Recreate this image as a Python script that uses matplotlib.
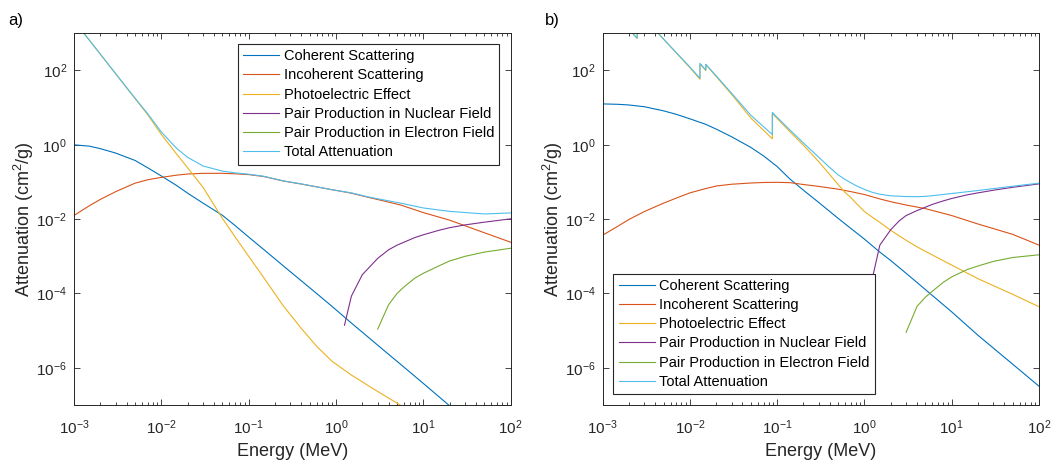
import matplotlib
matplotlib.use('Agg')
import matplotlib.pyplot as plt
from matplotlib.ticker import LogLocator, NullLocator

plt.rcParams['font.family'] = ['Liberation Sans', 'DejaVu Sans']
plt.rcParams['mathtext.fontset'] = 'custom'
plt.rcParams['mathtext.rm'] = 'Liberation Sans'
plt.rcParams['mathtext.it'] = 'Liberation Sans:italic'
plt.rcParams['mathtext.bf'] = 'Liberation Sans:bold'

labels = ['Coherent Scattering', 'Incoherent Scattering', 'Photoelectric Effect',
          'Pair Production in Nuclear Field', 'Pair Production in Electron Field',
          'Total Attenuation']
colors = ['#0072BD', '#D95319', '#EDB120', '#7E2F8E', '#77AC30', '#4DBEEE']

# ---- panel a) (low Z material) ----
energy_a = [1e-3, 1.5e-3, 2e-3, 3e-3, 5e-3, 7e-3, 1e-2, 1.5e-2, 2e-2, 3e-2,
            5e-2, 7e-2, 0.1, 0.15, 0.25, 0.4, 0.6, 0.9, 1.5, 2.3, 3.5, 5.5,
            10, 20, 50, 100]
coh_a = [1.0, 0.92, 0.79, 0.6, 0.38, 0.24, 0.145, 0.08, 0.05, 0.027, 0.0127,
         6.7e-3, 3.3e-3, 1.5e-3, 5.5e-4, 2.2e-4, 1.0e-4, 4.5e-5, 1.6e-5,
         6.9e-6, 3.0e-6, 1.24e-6, 3.8e-7, 9.5e-8, 1.5e-8, 3.8e-9]
inc_a = [0.0126, 0.023, 0.034, 0.055, 0.093, 0.115, 0.133, 0.153, 0.164,
         0.171, 0.171, 0.166, 0.158, 0.14, 0.106, 0.088, 0.074, 0.062, 0.050,
         0.039, 0.031, 0.024, 0.015, 0.0094, 0.0043, 0.0024]
pe_a = [2200, 650, 275, 81, 17.5, 6.4, 1.9, 0.56, 0.24, 0.072, 0.0105, 3.3e-3,
        1.0e-3, 2.6e-4, 4.6e-5, 1.15e-5, 3.8e-6, 1.5e-6, 6.4e-7, 3.4e-7,
        1.85e-7, 9.8e-8, 4.8e-8, 2.2e-8, 8e-9, 4e-9]
tot_a = [2200, 651, 276, 82, 18, 6.8, 2.2, 0.8, 0.46, 0.27, 0.196, 0.176,
         0.162, 0.142, 0.107, 0.089, 0.074, 0.062, 0.051, 0.040, 0.033, 0.027,
         0.020, 0.0162, 0.0138, 0.0147]
e_nuc_a = [1.25, 1.5, 2, 3, 4, 5, 6, 8, 10, 15, 20, 30, 50, 100]
nuc_a = [1.4e-5, 8.5e-5, 3.2e-4, 8.8e-4, 1.5e-3, 2.0e-3, 2.4e-3, 3.2e-3,
         3.8e-3, 5.0e-3, 5.9e-3, 7.0e-3, 8.3e-3, 0.0102]
e_el_a = [3, 4, 5, 6, 8, 10, 15, 20, 30, 50, 100]
el_a = [1.1e-5, 5e-5, 1.0e-4, 1.5e-4, 2.6e-4, 3.5e-4, 5.5e-4, 7.5e-4, 1.0e-3,
        1.3e-3, 1.65e-3]

# ---- panel b) (high Z material, with absorption edges) ----
energy_b = [1e-3, 1.5e-3, 2e-3, 3e-3, 5e-3, 7e-3, 1e-2, 1.5e-2, 2e-2, 3e-2,
            5e-2, 7e-2, 0.1, 0.14, 0.2, 0.3, 0.5, 0.7, 1, 1.5, 2, 3, 5, 10,
            20, 50, 100]
coh_b = [12.6, 12.3, 11.8, 10.6, 8.2, 6.6, 5.0, 3.6, 2.65, 1.65, 0.85, 0.5,
         0.26, 0.12, 0.06, 0.028, 0.0105, 5.6e-3, 2.9e-3, 1.3e-3, 7.7e-4,
         3.5e-4, 1.27e-4, 3.2e-5, 7.5e-6, 1.25e-6, 3.2e-7]
inc_b = [3.7e-3, 6.5e-3, 9.8e-3, 0.016, 0.027, 0.037, 0.051, 0.066, 0.078,
         0.087, 0.094, 0.097, 0.098, 0.096, 0.0855, 0.076, 0.064, 0.055, 0.046,
         0.035, 0.0295, 0.024, 0.0192, 0.0125, 7.4e-3, 3.9e-3, 2.0e-3]
e_pe_b = [1e-3, 2e-3, 2.484e-3, 2.484e-3, 4.35e-3, 5e-3, 7e-3, 1e-2, 1.3035e-2,
          1.3035e-2, 1.52e-2, 1.52e-2, 2e-2, 3e-2, 5e-2, 8.8e-2, 8.8e-2, 0.1,
          0.14, 0.2, 0.3, 0.4, 0.5, 0.6, 0.7, 0.8, 1, 1.25, 1.5, 2, 3, 4, 5, 7,
          10, 20, 50, 100]
pe_b = [5200, 1280, 730, 1500, 980, 690, 294, 119, 58, 151, 99.5, 143.5, 69,
        22.8, 5.25, 1.45, 7.0, 5.1, 2.25, 0.975, 0.35, 0.158, 0.085, 0.052,
        0.038, 0.027, 0.016, 0.011, 8.2e-3, 5.0e-3, 2.7e-3, 1.8e-3, 1.36e-3,
        9e-4, 5.8e-4, 2.5e-4, 9.5e-5, 4.4e-5]
tot_b = [5210, 1290, 740, 1510, 1000, 698, 300, 124, 61.5, 155, 103, 147, 72,
         24.5, 6.2, 1.88, 7.45, 5.46, 2.5, 1.12, 0.46, 0.245, 0.155, 0.117,
         0.095, 0.08, 0.063, 0.052, 0.047, 0.0425, 0.0405, 0.0403, 0.041,
         0.0445, 0.049, 0.059, 0.077, 0.093]
e_nuc_b = [1.25, 1.5, 2, 2.5, 3, 4, 5, 6, 8, 10, 15, 20, 30, 50, 100]
nuc_b = [3.0e-4, 2.0e-3, 5.2e-3, 9e-3, 0.0125, 0.017, 0.021, 0.025, 0.031,
         0.036, 0.045, 0.051, 0.060, 0.072, 0.089]
e_el_b = [3, 4, 5, 6, 8, 10, 15, 20, 30, 50, 100]
el_b = [9e-6, 4.5e-5, 8e-5, 1.15e-4, 2.0e-4, 2.8e-4, 4.4e-4, 5.5e-4, 7.3e-4,
        9.3e-4, 1.1e-3]

axis_col = '#262626'


def draw_panel(ax, curves, legend_kw):
    for (x, y), lab, col in zip(curves, labels, colors):
        ax.loglog(x, y, color=col, lw=0.8, label=lab)
    ax.set_xlim(1e-3, 1e2)
    ax.set_ylim(1e-7, 1e3)
    ax.set_xticks([1e-3, 1e-2, 1e-1, 1, 1e1, 1e2])
    ax.xaxis.set_minor_locator(LogLocator(base=10, subs=range(2, 10), numticks=20))
    ax.set_yticks([1e-6, 1e-4, 1e-2, 1, 1e2])
    ax.yaxis.set_minor_locator(NullLocator())
    ax.tick_params(which='both', direction='in', top=True, right=True,
                   colors=axis_col, labelsize=11, width=0.6)
    ax.tick_params(which='major', length=4.5)
    ax.tick_params(which='minor', length=2.5)
    ax.tick_params(axis='x', which='both', pad=10)
    ax.tick_params(axis='y', which='both', pad=5)
    for s in ax.spines.values():
        s.set_color(axis_col)
        s.set_linewidth(0.7)
    ax.set_xlabel('Energy (MeV)', fontsize=13, color=axis_col, labelpad=4)
    ax.set_ylabel('Attenuation (cm$^2$/g)', fontsize=13, color=axis_col, labelpad=0)
    leg = ax.legend(fancybox=False, edgecolor=axis_col, framealpha=1, fontsize=10.5,
                    handlelength=2.5, handletextpad=0.3, labelspacing=0.36,
                    borderpad=0.35, borderaxespad=0, **legend_kw)
    leg.get_frame().set_linewidth(0.8)


fig = plt.figure(figsize=(10.56, 4.66), dpi=100)
ax_a = fig.add_axes([0.0701, 0.1309, 0.4135, 0.7976])
ax_b = fig.add_axes([0.5707, 0.1309, 0.4132, 0.7976])

draw_panel(ax_a, [(energy_a, coh_a), (energy_a, inc_a), (energy_a, pe_a),
                  (e_nuc_a, nuc_a), (e_el_a, el_a), (energy_a, tot_a)],
           dict(loc='upper right', bbox_to_anchor=(0.974, 0.971)))
draw_panel(ax_b, [(energy_b, coh_b), (energy_b, inc_b), (e_pe_b, pe_b),
                  (e_nuc_b, nuc_b), (e_el_b, el_b), (e_pe_b, tot_b)],
           dict(loc='lower left', bbox_to_anchor=(0.0248, 0.0296)))

fig.text(8 / 1056, 1 - 13 / 466, 'a)', fontsize=12, va='top', ha='left')
fig.text(545 / 1056, 1 - 13 / 466, 'b)', fontsize=12, va='top', ha='left')

fig.savefig('out.png', dpi=100)
